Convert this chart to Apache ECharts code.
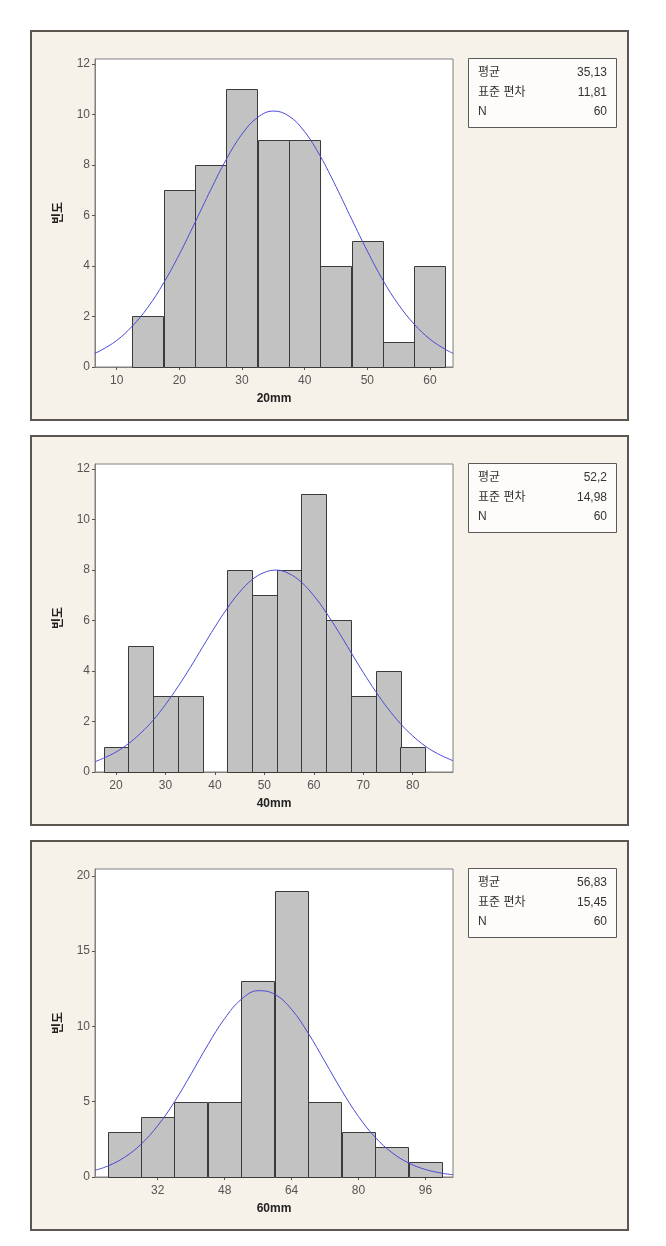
<!DOCTYPE html>
<html>
<head>
<meta charset="utf-8">
<script src="https://cdn.jsdelivr.net/npm/echarts@6/dist/echarts.min.js"></script>
<style>
html,body{margin:0;padding:0;background:#ffffff;}
#chart{width:666px;height:1246px;}
</style>
</head>
<body>
<div id="chart"></div>
<script>
// ---- Data ----
const titles = ['20mm', '40mm', '60mm'];
const statLabels = ['평균', '표준 편차', 'N'];

const binStart20 = [12.5, 17.5, 22.5, 27.5, 32.5, 37.5, 42.5, 47.5, 52.5, 57.5];
const binEnd20   = [17.5, 22.5, 27.5, 32.5, 37.5, 42.5, 47.5, 52.5, 57.5, 62.5];
const counts20   = [2, 7, 8, 11, 9, 9, 4, 5, 1, 4];
const curveX20   = [6.5, 7.5, 10, 12.5, 15, 17.5, 20, 22.5, 25, 27.5, 30, 32.5, 35, 37.5, 40, 42.5, 45, 47.5, 50, 52.5, 55, 57.5, 60, 62.5, 63.7];
const curveY20   = [0.54, 0.66, 1.05, 1.62, 2.37, 3.33, 4.46, 5.72, 7.01, 8.22, 9.22, 9.88, 10.13, 9.93, 9.31, 8.34, 7.14, 5.85, 4.59, 3.43, 2.46, 1.69, 1.10, 0.69, 0.54];
const xTicks20   = [10, 20, 30, 40, 50, 60];
const yTicks20   = [0, 2, 4, 6, 8, 10, 12];
const stats20    = ['35,13', '11,81', '60'];

const binStart40 = [17.5, 22.5, 27.5, 32.5, 37.5, 42.5, 47.5, 52.5, 57.5, 62.5, 67.5, 72.5, 77.5];
const binEnd40   = [22.5, 27.5, 32.5, 37.5, 42.5, 47.5, 52.5, 57.5, 62.5, 67.5, 72.5, 77.5, 82.5];
const counts40   = [1, 5, 3, 3, 0, 8, 7, 8, 11, 6, 3, 4, 1];
const curveX40   = [15.75, 17.5, 20, 22.5, 25, 27.5, 30, 32.5, 35, 37.5, 40, 42.5, 45, 47.5, 50, 52.5, 55, 57.5, 60, 62.5, 65, 67.5, 70, 72.5, 75, 77.5, 80, 82.5, 85, 87.5, 88.15];
const curveY40   = [0.41, 0.55, 0.79, 1.12, 1.54, 2.05, 2.67, 3.37, 4.13, 4.94, 5.74, 6.48, 7.12, 7.61, 7.90, 7.99, 7.85, 7.51, 6.98, 6.31, 5.55, 4.74, 3.94, 3.19, 2.51, 1.92, 1.43, 1.03, 0.73, 0.50, 0.45];
const xTicks40   = [20, 30, 40, 50, 60, 70, 80];
const yTicks40   = [0, 2, 4, 6, 8, 10, 12];
const stats40    = ['52,2', '14,98', '60'];

const binStart60 = [20, 28, 36, 44, 52, 60, 68, 76, 84, 92];
const binEnd60   = [28, 36, 44, 52, 60, 68, 76, 84, 92, 100];
const counts60   = [3, 4, 5, 5, 13, 19, 5, 3, 2, 1];
const curveX60   = [17, 20, 24, 28, 32, 36, 40, 44, 48, 52, 56, 60, 64, 68, 72, 76, 80, 84, 88, 92, 96, 100, 102.6];
const curveY60   = [0.45, 0.72, 1.30, 2.17, 3.41, 4.99, 6.85, 8.78, 10.52, 11.80, 12.37, 12.13, 11.13, 9.54, 7.65, 5.74, 4.02, 2.64, 1.62, 0.93, 0.50, 0.25, 0.15];
const xTicks60   = [32, 48, 64, 80, 96];
const yTicks60   = [0, 5, 10, 15, 20];
const stats60    = ['56,83', '15,45', '60'];

const xRange = [[6.54, 63.67], [15.75, 88.15], [17.0, 102.6]];
const yMax = [12.19, 12.19, 20.45];

// ---- Build ----
const panels = [
  {bs: binStart20, be: binEnd20, c: counts20, cx: curveX20, cy: curveY20, xt: xTicks20, yt: yTicks20, st: stats20},
  {bs: binStart40, be: binEnd40, c: counts40, cx: curveX40, cy: curveY40, xt: xTicks40, yt: yTicks40, st: stats40},
  {bs: binStart60, be: binEnd60, c: counts60, cx: curveX60, cy: curveY60, xt: xTicks60, yt: yTicks60, st: stats60}
];

const FONT = '"Liberation Sans", Arial, "Noto Sans CJK KR", sans-serif';
const KFONT = '"Noto Sans CJK KR", "Liberation Sans", sans-serif';
const OFFSET = 405;
const grids = [], xAxes = [], yAxes = [], series = [], graphics = [];

panels.forEach((p, i) => {
  const top = 59 + i * OFFSET;
  // panel background
  graphics.push({
    type: 'rect', z: -10,
    shape: {x: 31, y: 31 + i * OFFSET, width: 597, height: 389},
    style: {fill: '#f6f1e9', stroke: '#5b5650', lineWidth: 2}
  });
  // stats box
  graphics.push({
    type: 'rect', z: 10,
    shape: {x: 468.5, y: 58.5 + i * OFFSET, width: 148, height: 69},
    style: {fill: '#fdfcfa', stroke: '#5a5a5a', lineWidth: 1}
  });
  statLabels.forEach((lab, k) => {
    graphics.push({
      type: 'text', z: 11,
      x: 478, y: 73 + k * 19.5 + i * OFFSET,
      style: {text: lab, fill: '#333', font: '12px ' + FONT, textVerticalAlign: 'middle', textAlign: 'left'}
    });
    graphics.push({
      type: 'text', z: 11,
      x: 607, y: 73 + k * 19.5 + i * OFFSET,
      style: {text: p.st[k], fill: '#333', font: '12px ' + FONT, textVerticalAlign: 'middle', textAlign: 'right'}
    });
  });

  grids.push({left: 95, top: top, width: 358, height: 308, show: true, backgroundColor: '#ffffff', borderColor: '#808080', borderWidth: 1});

  xAxes.push({
    type: 'value', gridIndex: i, min: xRange[i][0], max: xRange[i][1],
    name: titles[i], nameLocation: 'middle', nameGap: 26,
    nameTextStyle: {fontFamily: FONT, fontWeight: 'bold', fontSize: 12, color: '#222'},
    axisLine: {show: true, lineStyle: {color: '#808080'}},
    axisTick: {show: true, length: 3, lineStyle: {color: '#555'}, customValues: p.xt},
    axisLabel: {color: '#555', fontFamily: FONT, fontSize: 12, margin: 8, customValues: p.xt},
    splitLine: {show: false}
  });
  yAxes.push({
    type: 'value', gridIndex: i, min: 0, max: yMax[i],
    name: '빈도', nameLocation: 'middle', nameGap: 32, nameRotate: 90,
    nameTextStyle: {fontFamily: KFONT, fontWeight: 'bold', fontSize: 12, color: '#222'},
    axisLine: {show: true, lineStyle: {color: '#808080'}},
    axisTick: {show: true, length: 3, lineStyle: {color: '#555'}, customValues: p.yt},
    axisLabel: {color: '#555', fontFamily: FONT, fontSize: 12, margin: 5, customValues: p.yt},
    splitLine: {show: false}
  });

  series.push({
    type: 'custom', xAxisIndex: i, yAxisIndex: i,
    encode: {x: [0, 1], y: 2},
    data: p.bs.map((s, k) => [s, p.be[k], p.c[k]]),
    renderItem: function (params, api) {
      const v = api.value(2);
      if (!v) return null;
      const a = api.coord([api.value(0), v]);
      const b = api.coord([api.value(1), 0]);
      return {
        type: 'rect',
        shape: {x: Math.round(a[0]) + 0.5, y: Math.round(a[1]) + 0.5, width: Math.round(b[0] - a[0]), height: Math.round(b[1] - a[1])},
        style: {fill: '#c2c2c2', stroke: '#3a3a3a', lineWidth: 1}
      };
    },
    z: 2, silent: true
  });
  series.push({
    type: 'line', xAxisIndex: i, yAxisIndex: i,
    data: p.cx.map((x, k) => [x, p.cy[k]]),
    smooth: 0.4, showSymbol: false, symbol: 'none',
    lineStyle: {color: '#4a4ad8', width: 1},
    z: 3, silent: true
  });
});

const chart = echarts.init(document.getElementById('chart'), null, {renderer: 'canvas'});
chart.setOption({
  animation: false,
  backgroundColor: '#ffffff',
  grid: grids, xAxis: xAxes, yAxis: yAxes, series: series,
  graphic: graphics
});
</script>
</body>
</html>
